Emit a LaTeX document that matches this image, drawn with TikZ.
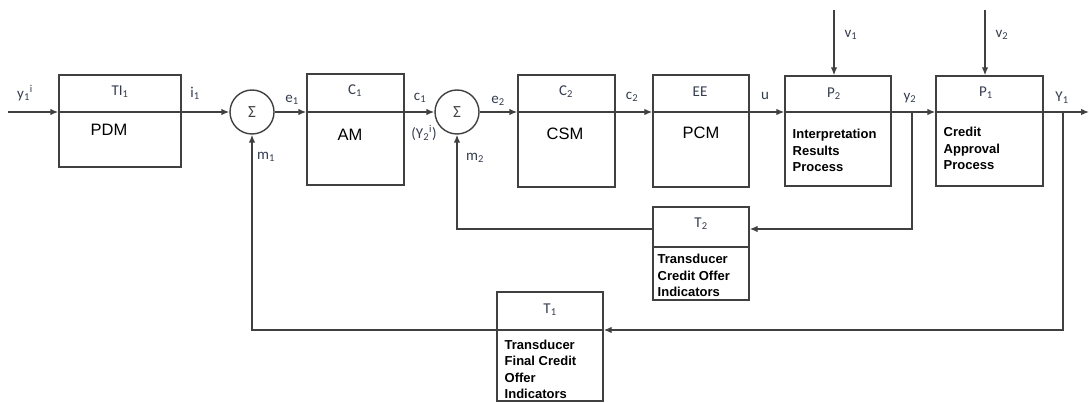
\documentclass[tikz,border=0pt]{standalone}
\usepackage{fontspec}
\setmainfont{Liberation Sans}
\newfontfamily\lblfont{Carlito}
\usetikzlibrary{positioning,arrows.meta}
\definecolor{lblcol}{HTML}{343C4E}
\definecolor{linecol}{HTML}{404040}

\begin{document}
\begin{tikzpicture}[
  x=1pt,y=-1pt,line width=1.4pt,color=linecol,
  blk/.style={draw,rectangle,inner sep=0pt},
  sum/.style={draw,circle,minimum size=44pt,inner sep=0pt,
    font=\lblfont\fontsize{17}{17}\selectfont},
  lbl/.style={text=lblcol,inner sep=0pt,
    font=\lblfont\fontsize{15}{15}\selectfont},
  blkname/.style={text=black,inner sep=0pt,
    font=\fontsize{16.5}{16.5}\selectfont},
  desc/.style={text=black,inner sep=0pt,anchor=north west,align=left,
    font=\bfseries\fontsize{13}{16.5}\selectfont},
  sig/.style={-{Latex[length=8pt,width=6.5pt]}}]
\useasboundingbox (0,0) rectangle (1089,403);

% forward path
\node[blk,minimum width=122pt,minimum height=92pt] (ti) at (120,121) {};
\node[sum] (sa) at (252,112) {Σ};
\node[blk,minimum width=97pt,minimum height=111pt] (ca) at (355.5,129.5) {};
\node[sum] (sb) at (457,112) {Σ};
\node[blk,minimum width=97pt,minimum height=112pt] (cb) at (566.5,131) {};
\node[blk,minimum width=96pt,minimum height=112pt] (ee) at (701,131) {};
\node[blk,minimum width=106pt,minimum height=110pt] (pb) at (838,131) {};
\node[blk,minimum width=107pt,minimum height=110pt] (pa) at (989.5,131) {};

% feedback blocks
\node[blk,minimum width=96pt,minimum height=93pt] (tb) at (701,253.5) {};
\node[blk,minimum width=106pt,minimum height=109pt] (ta) at (550,346.5) {};

\coordinate (yin) at (8,112);
\coordinate (yout) at (1089,112);
\coordinate (tapb) at (912,112);
\coordinate (tapa) at (1063,112);
\coordinate (fbb) at (912,229);
\coordinate (fba) at (1063,330);
\coordinate (va) at (834,10);
\coordinate (vb) at (985,10);
\coordinate (tbd) at (0,247);

% block texts
\node[lbl] at (120,92) {TI\textsubscript{1}};
\node[blkname] at (109,130) {PDM};
\node[lbl] at (355,91) {C\textsubscript{1}};
\node[blkname] at (350,135) {AM};
\node[lbl] at (566,92) {C\textsubscript{2}};
\node[blkname] at (565,134) {CSM};
\node[lbl] at (700,92) {EE};
\node[blkname] at (701,133) {PCM};
\node[lbl] at (834,94) {P\textsubscript{2}};
\node[desc] at (792,128.5) {Interpretation\\Results\\Process};
\node[lbl] at (986,93) {P\textsubscript{1}};
\node[desc] at (943,126.5) {Credit\\Approval\\Process};
\node[lbl] at (701,224) {T\textsubscript{2}};
\node[desc] at (657,253.5) {Transducer\\Credit Offer\\Indicators};
\node[lbl] at (550,310) {T\textsubscript{1}};
\node[desc] at (504,339) {Transducer\\Final Credit\\Offer\\Indicators};

% signal labels
\node[lbl] at (25,93) {y\textsubscript{1}\textsuperscript{i}};
\node[lbl] at (195,93) {i\textsubscript{1}};
\node[lbl] at (292,100) {e\textsubscript{1}};
\node[lbl] at (420,98) {c\textsubscript{1}};
\node[lbl] at (424,133) {(Y\textsubscript{2}\textsuperscript{i})};
\node[lbl] at (498,101) {e\textsubscript{2}};
\node[lbl] at (632,97) {c\textsubscript{2}};
\node[lbl] at (765,96) {u};
\node[lbl] at (851,35) {v\textsubscript{1}};
\node[lbl] at (1002,35) {v\textsubscript{2}};
\node[lbl] at (910,98) {y\textsubscript{2}};
\node[lbl] at (1062,98) {Y\textsubscript{1}};
\node[lbl] at (266,157) {m\textsubscript{1}};
\node[lbl] at (475,158) {m\textsubscript{2}};

% connectors
\draw[sig] (yin) -- (ti.west |- sa);
\draw[sig] (ti.west |- sa) -- (sa);
\draw[sig] (sa) -- (ca.west |- sa);
\draw[sig] (ca.west |- sa) -- (sb);
\draw[sig] (sb) -- (cb.west |- sb);
\draw[sig] (cb.west |- sb) -- (ee.west |- sb);
\draw[sig] (ee.west |- sb) -- (pb.west |- sb);
\draw[sig] (pb.west |- sb) -- (pa.west |- sb);
\draw[sig] (pa.west |- sb) -- (yout);
\draw[sig] (va) -- (va |- pb.north);
\draw[sig] (vb) -- (vb |- pa.north);
\draw (tb.west |- tbd) -- (tb.east |- tbd);
\draw[sig] (tapb) -- (fbb) -- (tb.east |- fbb);
\draw[sig] (tb.west |- fbb) -| (sb.south);
\draw[sig] (tapa) -- (fba) -- (ta.east |- fba);
\draw (ta.east |- fba) -- (ta.west |- fba);
\draw[sig] (ta.west |- fba) -| (sa.south);
\end{tikzpicture}
\end{document}
